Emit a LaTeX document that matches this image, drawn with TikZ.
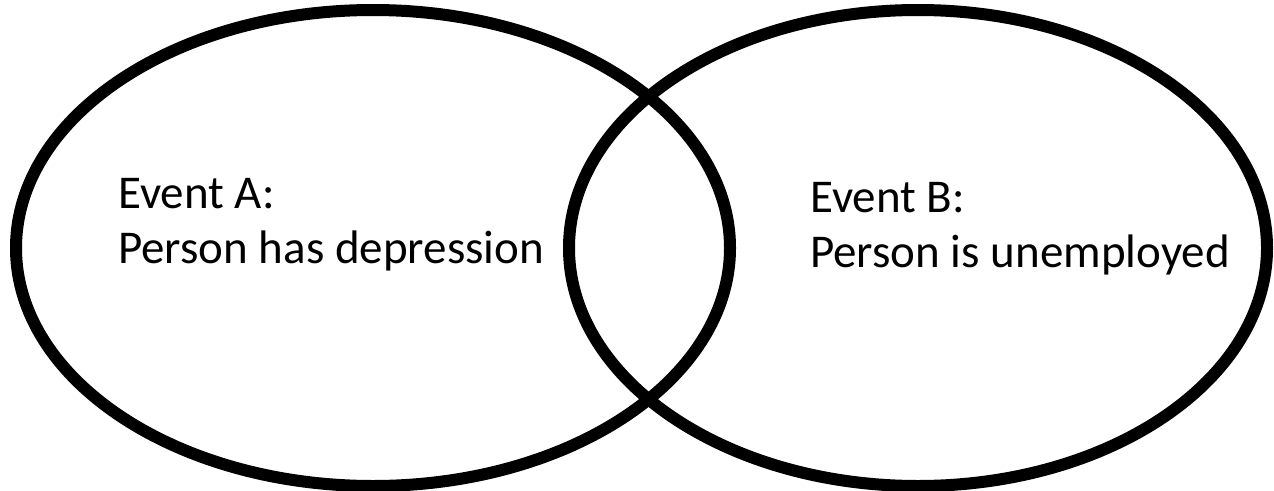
\documentclass[tikz,border=0pt]{standalone}
\usepackage{fontspec}
\setmainfont{Carlito}
\usetikzlibrary{positioning, shapes.geometric}

\begin{document}
\begin{tikzpicture}[x=1pt, y=-1pt,
    event/.style={draw, ellipse, line width=12pt, inner sep=0pt},
    label/.style={align=left, anchor=base west, inner sep=0pt, font=\fontsize{47}{55}\selectfont}]

    \useasboundingbox (0,0) rectangle (1274,490);

    % the two events
    \node (evA) [event, minimum width=714pt, minimum height=476pt] at (373,248) {};
    \node (evB) [event, minimum width=698pt, minimum height=476pt] at (918,248) {};

    % their texts
    \node (txtA) [label] at (118,263) {Event A:\\Person has depression};
    \node (txtB) [label] at (810,267) {Event B:\\Person is unemployed};

\end{tikzpicture}
\end{document}
